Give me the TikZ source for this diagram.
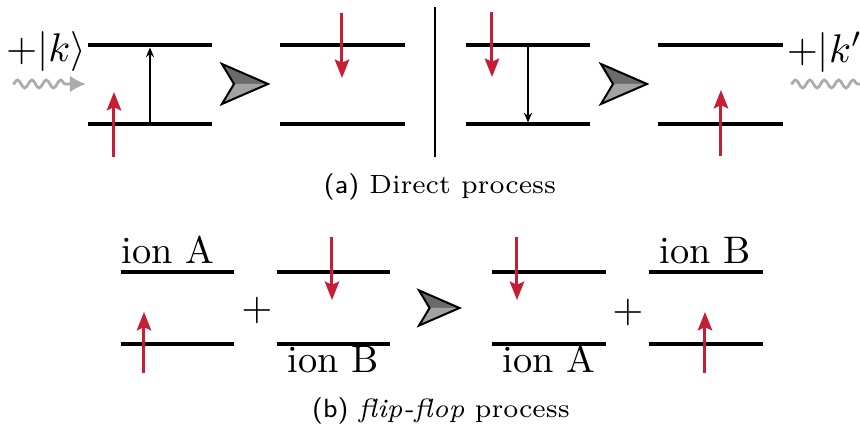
\documentclass[tikz,border=0pt]{standalone}
\usetikzlibrary{arrows.meta,decorations.pathmorphing}
\definecolor{spinred}{RGB}{198,30,52}
\begin{document}
\begin{tikzpicture}[x=0.25pt,y=-0.25pt]
  % Styles for levels, spins and photons
  \tikzset{
    level/.style={line width=1pt},
    spin/.style={draw=spinred, line width=0.75pt, -{Stealth[length=4.6pt,width=3.6pt,inset=0.8pt]}},
    jump/.style={line width=0.4pt, -{Stealth[length=2.4pt,width=2pt]}},
    photon/.style={gray!65, line width=0.7pt, decorate,
      decoration={snake, amplitude=1pt, segment length=3.6pt, post length=4pt},
      -{Latex[length=4pt,width=4.2pt]}},
    lbl/.style={font=\fontsize{9.6}{11.5}\selectfont, inner sep=0pt},
    captxt/.style={font=\fontsize{6.6}{8}\selectfont, inner sep=0pt}
  }
  \clip (0,0) rectangle (860,434);

  % Pairs of levels (left end / right end / upper / lower)
  \foreach \xa/\xb/\ya/\yb in {
      88/212/45/124, 280/405/45/124, 466/590/45/124, 658/783/45/124,
      121/234/272/344, 277/390/272/344, 492/606/272/344, 649/763/272/344%
  } {
    \draw[level] (\xa,\ya) -- (\xb,\ya);
    \draw[level] (\xa,\yb) -- (\xb,\yb);
  }

  % Spins (x / start / tip)
  \foreach \sx/\sa/\sb in {
      114/157/92, 342/13/78, 492/12/77, 721/156/90,
      144/373/312, 332/237/300, 517/237/300, 705/373/312%
  } {
    \draw[spin] (\sx,\sa) -- (\sx,\sb);
  }

  % Transitions between the levels
  \draw[jump] (150,124) -- (150,47.5);
  \draw[jump] (528,45) -- (528,122.5);

  % Separator
  \draw[line width=0.5pt] (435,7) -- (435,157);

  % Grey "leads to" heads
  \foreach \gx/\gy/\gs in {222/84/1, 601/84/1, 419/308/0.88} {
    \begin{scope}[shift={(\gx,\gy)}, scale=\gs]
      \fill[black!58] (0,-20) -- (46,0) -- (12,0) -- cycle;
      \fill[black!36] (0,20) -- (46,0) -- (12,0) -- cycle;
      \draw[line width=0.5pt, line join=miter] (0,-20) -- (46,0) -- (0,20) -- (12,0) -- cycle;
    \end{scope}
  }

  % Photons in and out
  \coordinate (pinA) at (13,84);
  \coordinate (pinB) at (86,84);
  \coordinate (poutA) at (791,84);
  \coordinate (poutB) at (878,84);
  \draw[photon] (pinA) -- (pinB);
  \draw[photon] (poutA) -- (poutB);
  \node[lbl] (kin) at (46,52) {$+|k\rangle$};
  \node[lbl, anchor=west] (kout) at (786,52) {$+|k'\rangle$};

  % Ion labels and plus signs
  \node[lbl, anchor=base] (ionA) at (168,264) {ion A};
  \node[lbl, anchor=base] (ionBlow) at (333,373) {ion B};
  \node[lbl, anchor=base] (ionAlow) at (549,373) {ion A};
  \node[lbl, anchor=base] (ionB) at (705,264) {ion B};
  \node[lbl] (plusL) at (257,311) {$+$};
  \node[lbl] (plusR) at (628,313) {$+$};

  % Captions
  \node[captxt] (capa) at (440,187) {\textsf{(a)} Direct process};
  \node[captxt] (capb) at (441,411) {\textsf{(b)} \textit{flip-flop} process};
\end{tikzpicture}
\end{document}
